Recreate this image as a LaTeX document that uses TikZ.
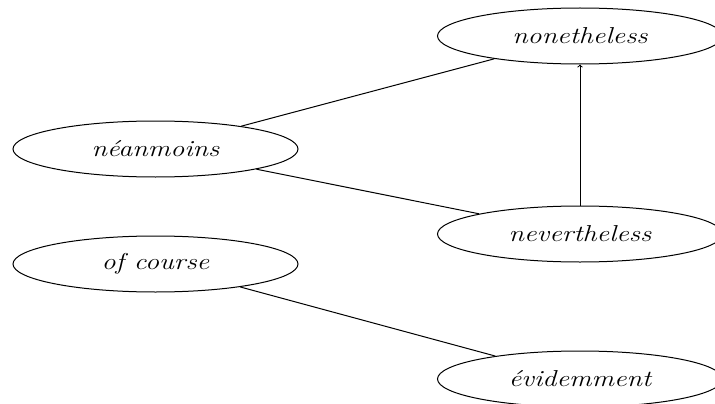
\documentclass[tikz,border=0pt]{standalone}
\usepackage{graphicx}
\usetikzlibrary{shapes.geometric}
% italic word, widened horizontally
\newcommand{\wideword}[1]{\scalebox{1.22}[1]{\itshape #1}}
\begin{document}
\begin{tikzpicture}[x=1pt,y=1pt,
  word/.style={ellipse, draw, line width=1pt, minimum width=285pt, minimum height=56pt,
    inner sep=0pt, font=\fontsize{23}{27}\selectfont},
  link/.style={line width=1pt}]
  \useasboundingbox (0,0) rectangle (715,-404);
  \node[word] (nonetheless)  at (580,-36)    {\wideword{nonetheless}};
  \node[word] (neanmoins)    at (155.5,-149) {\wideword{néanmoins}};
  \node[word] (nevertheless) at (580,-234)   {\wideword{nevertheless}};
  \node[word] (ofcourse)     at (155.5,-264) {\wideword{of course}};
  \node[word] (evidemment)   at (580,-379)   {\wideword{évidemment}};
  \draw[link] (neanmoins) -- (nonetheless);
  \draw[link] (neanmoins) -- (nevertheless);
  \draw[link,->] (nevertheless) -- (nonetheless);
  \draw[link] (ofcourse) -- (evidemment);
\end{tikzpicture}
\end{document}
